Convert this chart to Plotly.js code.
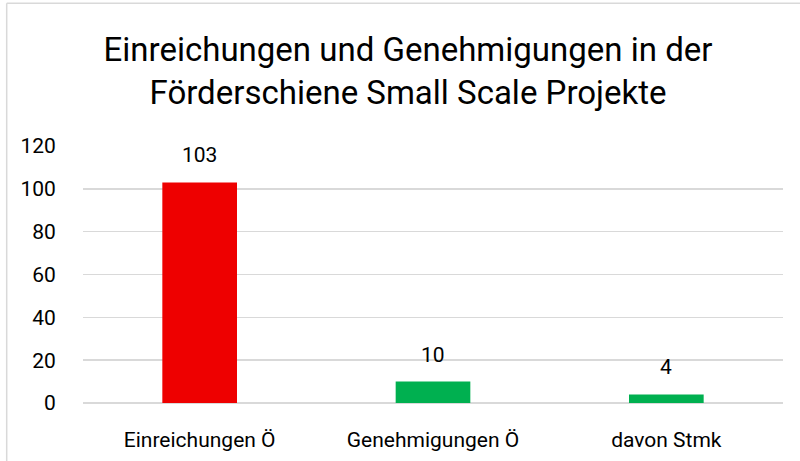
<!DOCTYPE html>
<html><head><meta charset="utf-8">
<script src="https://cdn.plot.ly/plotly-3.0.1.min.js"></script>
<style>html,body{margin:0;padding:0;background:#fff}#c{width:800px;height:461px}</style>
</head><body><div id="c"></div>
<script>
const categories = ["Einreichungen Ö", "Genehmigungen Ö", "davon Stmk"];
const values = [103, 10, 4];
const colors = ["#EE0000", "#00B050", "#00B050"];
const yTicks = [0, 20, 40, 60, 80, 100, 120];

const trace = {
  type: "bar", x: categories, y: values,
  marker: {color: colors},
  hoverinfo: "none"
};
const labels = categories.map((c, i) => ({
  x: c, y: values[i], xref: "x", yref: "y", text: String(values[i]),
  showarrow: false, yanchor: "bottom", yshift: 13,
  font: {family: "Roboto", size: 21, color: "#000"}
}));
const layout = {
  width: 800, height: 461,
  margin: {l: 83, r: 17, t: 146, b: 58},
  paper_bgcolor: "#fff", plot_bgcolor: "#fff",
  bargap: 0.68,
  showlegend: false,
  font: {family: "Roboto", color: "#000"},
  title: {text: "Einreichungen und Genehmigungen in der<br>Förderschiene Small Scale Projekte",
    font: {family: "Roboto", size: 33, color: "#000"}, xref: "container", x: 0.51, xanchor: "center",
    yref: "container", y: 0.867, yanchor: "middle"},
  xaxis: {tickfont: {family: "Roboto", size: 21, color: "#000"}, showline: false,
    ticks: "outside", ticklen: 18, tickcolor: "rgba(0,0,0,0)", fixedrange: true},
  yaxis: {range: [0, 120], tickvals: yTicks, ticktext: yTicks.map(String),
    tickfont: {family: "Roboto", size: 21, color: "#000"},
    showgrid: true, gridcolor: "#d9d9d9", gridwidth: 1.5,
    zeroline: true, zerolinecolor: "#d9d9d9", zerolinewidth: 1.5,
    ticks: "outside", ticklen: 22, tickcolor: "rgba(0,0,0,0)", showline: false},
  annotations: labels,
  shapes: [
    {type: "line", xref: "paper", yref: "paper", x0: -0.109, x1: -0.109, y0: -0.3, y1: 1.555,
      line: {color: "#d9d9d9", width: 1.5}, layer: "below"},
    {type: "line", xref: "paper", yref: "paper", x0: -0.109, x1: 1.03, y0: 1.555, y1: 1.555,
      line: {color: "#d9d9d9", width: 1.5}, layer: "below"}
  ]
};
Plotly.newPlot("c", [trace], layout, {staticPlot: true});
</script></body></html>
